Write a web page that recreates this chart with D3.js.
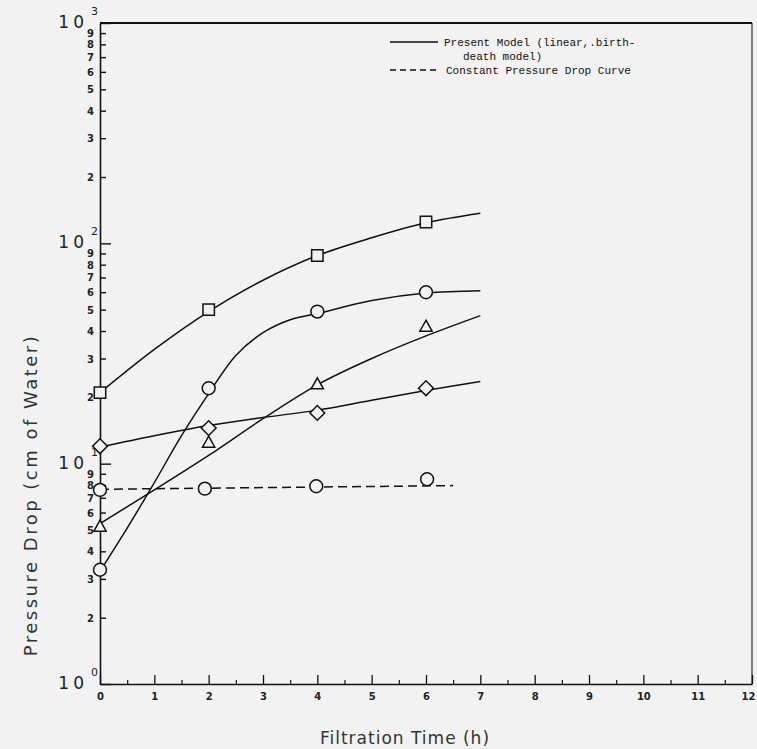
<!DOCTYPE html>
<html>
<head>
<meta charset="utf-8">
<script src="https://cdn.jsdelivr.net/npm/d3@7"></script>
<style>
  body { margin: 0; background: #f2f2f2; }
  svg { display: block; }
</style>
</head>
<body>
<div id="chart-area"></div>
<script>
// measured points (filtration time in h, pressure drop in cm of water)
var pointTimes = [0, 2, 4, 6];
var squares = [21, 50, 88, 125];
var circles = [3.3, 22, 49, 60];
var triangles = [5.2, 12.5, 23, 42];
var diamonds = [12, 14.5, 17, 22];
var constTimes = [0, 1.93, 3.98, 6.02];
var constCircles = [7.6, 7.7, 7.9, 8.5];

// model curves
var modelTimes = [0, 1, 2, 3, 4, 5, 6, 7];
var squareModel = [21, 33, 49, 68, 88, 106, 124, 137];
var triangleModel = [5.35, 7.6, 10.9, 16, 22.8, 30, 38, 47];
var diamondModel = [11.9, 13.4, 14.9, 16.2, 17.5, 19.4, 21.5, 23.6];
var circleModelTimes = [0, 0.5, 1, 1.5, 2, 2.5, 3, 3.5, 4, 5, 6, 7];
var circleModel = [3.25, 5.1, 8.2, 13.4, 20.8, 31, 39.3, 45, 48, 55, 59.5, 61];
var constTimesLine = [0, 6.5];
var constModel = [7.65, 7.95];

var xTicks = d3.range(0, 13);
var xMinor = d3.range(0.5, 12, 1);
var yDecades = [1, 10, 100, 1000];
var yMinor = [2, 3, 4, 5, 6, 7, 8, 9, 20, 30, 40, 50, 60, 70, 80, 90, 200, 300, 400, 500, 600, 700, 800, 900];

var width = 757, height = 749;
var svg = d3.select("#chart-area").append("svg")
    .attr("width", width)
    .attr("height", height)

var x = d3.scaleLinear().domain([0, 12]).range([100, 752]);
var y = d3.scaleLog().domain([1, 1000]).range([684, 23]);

// frame (top and right)
svg.append("line")
    .attr("x1", x(0)).attr("x2", x(12))
    .attr("y1", y(1000)).attr("y2", y(1000))
    .attr("stroke", "#111").attr("stroke-width", 2);
svg.append("line")
    .attr("x1", x(12)).attr("x2", x(12))
    .attr("y1", y(1000)).attr("y2", y(1))
    .attr("stroke", "#333").attr("stroke-width", 1.2);

// y axis
var yAxis = svg.append("g")
    .attr("transform", "translate(" + x(0) + ",0)")
    .call(d3.axisLeft(y).tickValues(yDecades.concat(yMinor)).tickSizeInner(-10).tickSizeOuter(0).tickFormat(""));
yAxis.select(".domain").attr("stroke", "#111").attr("stroke-width", 1.6);
yAxis.selectAll(".tick line")
    .attr("stroke", "#111").attr("stroke-width", 1.4)
    .attr("x2", (d) => {return yDecades.indexOf(d) >= 0 ? 11 : 6});

yMinor.forEach((v) => {
    svg.append("text")
        .attr("x", x(0) - 6).attr("y", y(v) + 4)
        .attr("text-anchor", "end")
        .style("font", "bold 10px 'DejaVu Sans', sans-serif")
        .attr("fill", "#222")
        .text(String(v).charAt(0));
});
yDecades.forEach((v, i) => {
    svg.append("text")
        .attr("x", x(0) - 12).attr("y", y(v) + 5)
        .attr("text-anchor", "end")
        .style("font", "17px 'DejaVu Sans', sans-serif")
        .style("letter-spacing", "4px")
        .attr("fill", "#222")
        .text("10");
    svg.append("text")
        .attr("x", x(0) - 9).attr("y", y(v) - 8)
        .attr("text-anchor", "start")
        .style("font", "11px 'DejaVu Sans', sans-serif")
        .attr("fill", "#222")
        .text(i);
});

// x axis
var xAxis = svg.append("g")
    .attr("transform", "translate(0," + y(1) + ")")
    .call(d3.axisBottom(x).tickValues(xTicks).tickSizeInner(-9).tickSizeOuter(0).tickPadding(9));
xAxis.select(".domain").attr("stroke", "#111").attr("stroke-width", 1.6);
xAxis.selectAll(".tick line").attr("stroke", "#111").attr("stroke-width", 1.3);
xAxis.selectAll(".tick text")
    .style("font", "bold 10px 'DejaVu Sans', sans-serif")
    .attr("fill", "#222")
    .attr("dx", (d) => {return d === 12 ? -4 : 0});
svg.append("g")
    .attr("transform", "translate(0," + y(1) + ")")
    .call(d3.axisBottom(x).tickValues(xMinor).tickSizeInner(-4).tickSizeOuter(0).tickFormat(""))
    .call((g) => g.select(".domain").remove())
    .selectAll(".tick line").attr("stroke", "#111").attr("stroke-width", 1.2);

// axis titles
svg.append("text")
    .attr("x", 405).attr("y", 744)
    .attr("text-anchor", "middle")
    .style("font", "17px 'DejaVu Sans', sans-serif")
    .style("letter-spacing", "1px")
    .attr("fill", "#333")
    .text("Filtration Time (h)");
svg.append("text")
    .attr("transform", "translate(37,495) rotate(-90)")
    .attr("text-anchor", "middle")
    .style("font", "18px 'DejaVu Sans', sans-serif")
    .style("letter-spacing", "2.5px")
    .attr("fill", "#333")
    .text("Pressure Drop (cm of Water)");

// model curves
var line = d3.line()
    .x((d) => {return x(d[0])})
    .y((d) => {return y(d[1])})
    .curve(d3.curveCatmullRom.alpha(0.5));

[[modelTimes, squareModel], [circleModelTimes, circleModel], [modelTimes, triangleModel], [modelTimes, diamondModel]].forEach((c) => {
    svg.append("path")
        .attr("fill", "none")
        .attr("stroke", "#111")
        .attr("stroke-width", 1.5)
        .attr("d", line(d3.zip(c[0], c[1])));
});
svg.append("path")
    .attr("fill", "none")
    .attr("stroke", "#111")
    .attr("stroke-width", 1.5)
    .attr("stroke-dasharray", "9,5")
    .attr("d", line(d3.zip(constTimesLine, constModel)));

// markers
function marker(type, times, vals, size) {
    svg.append("g").selectAll("path")
        .data(d3.zip(times, vals))
        .enter().append("path")
        .attr("transform", (d) => {return "translate(" + x(d[0]) + "," + y(d[1]) + ")" + (type === d3.symbolSquare ? " rotate(45)" : "")})
        .attr("d", d3.symbol().type(type).size(size))
        .attr("fill", "#f2f2f2")
        .attr("stroke", "#111")
        .attr("stroke-width", 1.5);
}
var squareType = {draw: (ctx, s) => {var r = Math.sqrt(s) / 2; ctx.rect(-r, -r, 2 * r, 2 * r);}};
var triType = {draw: (ctx, s) => {var r = Math.sqrt(s) / 2; ctx.moveTo(0, -r); ctx.lineTo(r, r * 0.8); ctx.lineTo(-r, r * 0.8); ctx.closePath();}};
marker(squareType, pointTimes, squares, 130);
marker(d3.symbolCircle, pointTimes, circles, 130);
marker(triType, pointTimes, triangles, 150);
marker(d3.symbolSquare, pointTimes, diamonds, 110);
marker(d3.symbolCircle, constTimes, constCircles, 130);

// legend
var lg = svg.append("g").attr("transform", "translate(390,0)");
lg.append("line").attr("x1", 0).attr("x2", 48).attr("y1", 42).attr("y2", 42)
    .attr("stroke", "#111").attr("stroke-width", 1.5);
lg.append("line").attr("x1", 0).attr("x2", 48).attr("y1", 70).attr("y2", 70)
    .attr("stroke", "#111").attr("stroke-width", 1.5).attr("stroke-dasharray", "6,4");
var legendText = [["Present Model (linear,.birth-", 54, 46], ["death model)", 73, 60], ["Constant Pressure Drop Curve", 56, 74]];
legendText.forEach((t) => {
    lg.append("text")
        .attr("x", t[1]).attr("y", t[2])
        .style("font", "11px 'Liberation Mono', monospace")
        .attr("fill", "#111")
        .text(t[0]);
});
</script>
</body>
</html>
